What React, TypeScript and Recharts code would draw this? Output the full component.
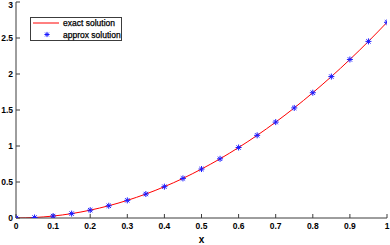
import { ComposedChart, Line, Scatter, XAxis, YAxis, Legend } from "recharts";

const xValues = [0, 0.05, 0.1, 0.15, 0.2, 0.25, 0.3, 0.35, 0.4, 0.45, 0.5, 0.55, 0.6, 0.65, 0.7, 0.75, 0.8, 0.85, 0.9, 0.95, 1];
const exactValues = [0, 0.007, 0.027, 0.061, 0.109, 0.17, 0.245, 0.333, 0.435, 0.55, 0.68, 0.822, 0.979, 1.148, 1.332, 1.529, 1.74, 1.964, 2.202, 2.453, 2.718];
const approxValues = [0, 0.007, 0.027, 0.061, 0.109, 0.17, 0.245, 0.333, 0.435, 0.55, 0.68, 0.822, 0.979, 1.148, 1.332, 1.529, 1.74, 1.964, 2.202, 2.453, 2.718];
const xTicks = [0, 0.1, 0.2, 0.3, 0.4, 0.5, 0.6, 0.7, 0.8, 0.9, 1];
const yTicks = [0, 0.5, 1, 1.5, 2, 2.5, 3];

const data = xValues.map((x, i) => ({ x, exact: exactValues[i], approx: approxValues[i] }));

const FONT = "'Liberation Sans', Arial, sans-serif";
const AXIS = "#3c3c3c";

function Star({ cx, cy, size = 3, color = "#1a1aff" }: { cx?: number; cy?: number; size?: number; color?: string }) {
  if (cx == null || cy == null) return null;
  const d = size * 0.72;
  return (
    <g stroke={color} strokeWidth={1}>
      <line x1={cx - size} y1={cy} x2={cx + size} y2={cy} />
      <line x1={cx} y1={cy - size} x2={cx} y2={cy + size} />
      <line x1={cx - d} y1={cy - d} x2={cx + d} y2={cy + d} />
      <line x1={cx - d} y1={cy + d} x2={cx + d} y2={cy - d} />
    </g>
  );
}

function LegendBox() {
  return (
    <svg width={92} height={24} style={{ display: "block" }}>
      <rect x={0.5} y={0.5} width={91} height={23} fill="#fff" stroke={AXIS} strokeWidth={1} />
      <line x1={3} y1={6} x2={29} y2={6} stroke="#ff0000" strokeWidth={1} />
      <text x={33} y={9} fontSize={8.5} fontFamily={FONT} fill="#000" stroke="#000" strokeWidth={0.25}>exact solution</text>
      <Star cx={17} cy={17.5} size={2.6} />
      <text x={33} y={20.5} fontSize={8.5} fontFamily={FONT} fill="#000" stroke="#000" strokeWidth={0.25}>approx solution</text>
    </svg>
  );
}

const tickStyle = { fontSize: 8.5, fontFamily: FONT, fontWeight: "bold", fill: "#000" };

export default function App() {
  return (
    <div style={{ position: "absolute", left: 0, top: 0, width: 390, height: 245, background: "#fff" }}>
      <ComposedChart width={390} height={245} data={data} margin={{ top: 2, right: 3, left: 0, bottom: 0 }}>
        <XAxis
          dataKey="x"
          type="number"
          domain={[0, 1]}
          ticks={xTicks}
          allowDataOverflow
          height={27}
          tickSize={-4}
          tickMargin={9}
          stroke={AXIS}
          tick={tickStyle}
          label={{ value: "x", position: "insideBottom", offset: 2, style: { fontSize: 10, fontFamily: FONT, fontWeight: "bold", fill: "#000" } }}
        />
        <XAxis
          xAxisId="top"
          orientation="top"
          dataKey="x"
          type="number"
          domain={[0, 1]}
          ticks={xTicks}
          allowDataOverflow
          height={0}
          tickSize={-4}
          stroke={AXIS}
          tick={() => <g />}
        />
        <YAxis
          type="number"
          domain={[0, 3]}
          ticks={yTicks}
          allowDataOverflow
          width={16}
          tickSize={-4}
          tickMargin={7}
          stroke={AXIS}
          tick={tickStyle}
        />
        <YAxis
          yAxisId="right"
          orientation="right"
          type="number"
          domain={[0, 3]}
          ticks={yTicks}
          allowDataOverflow
          width={0}
          tickSize={-4}
          stroke={AXIS}
          tick={() => <g />}
        />
        <Legend
          layout="horizontal"
          verticalAlign="middle"
          align="center"
          wrapperStyle={{ position: "absolute", left: 30, top: 17, width: "auto", height: "auto" }}
          content={() => <LegendBox />}
        />
        <Line
          dataKey="exact"
          name="exact solution"
          type="monotone"
          stroke="#ff0000"
          strokeWidth={1}
          dot={false}
          isAnimationActive={false}
        />
        <Scatter
          dataKey="approx"
          name="approx solution"
          fill="#1a1aff"
          shape={(p: any) => <Star cx={p.cx} cy={p.cy} />}
          isAnimationActive={false}
        />
      </ComposedChart>
    </div>
  );
}
